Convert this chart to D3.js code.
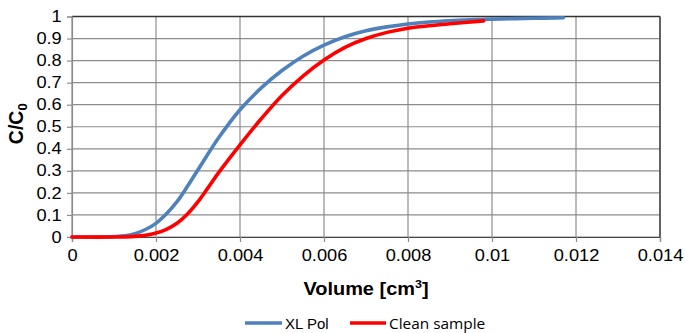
<!DOCTYPE html>
<html>
<head>
<meta charset="utf-8">
<script src="https://cdn.jsdelivr.net/npm/d3@7"></script>
<style>
  body { margin: 0; background: #fff; }
  text { font-family: "Liberation Sans", Arial, sans-serif; }
</style>
</head>
<body>
<div id="chart"></div>
<script>
// volumes in cm3, C/C0 values
const xlPolVolume = [0, 0.0005, 0.001, 0.00125, 0.0015, 0.00175, 0.002, 0.00225, 0.0025, 0.00275, 0.003, 0.0035, 0.004, 0.0045, 0.005, 0.0055, 0.006, 0.0065, 0.007, 0.0075, 0.008, 0.0085, 0.009, 0.0095, 0.01, 0.011, 0.0117];
const xlPolConc   = [0, 0, 0.002, 0.005, 0.015, 0.034, 0.062, 0.105, 0.16, 0.23, 0.305, 0.452, 0.577, 0.675, 0.755, 0.82, 0.87, 0.908, 0.935, 0.953, 0.966, 0.975, 0.981, 0.985, 0.988, 0.992, 0.994];

const cleanVolume = [0, 0.001, 0.0015, 0.00175, 0.002, 0.00225, 0.0025, 0.00275, 0.003, 0.00325, 0.0035, 0.004, 0.0045, 0.005, 0.0055, 0.006, 0.0065, 0.007, 0.0075, 0.008, 0.0085, 0.009, 0.0098];
const cleanConc   = [0, 0, 0.003, 0.008, 0.018, 0.035, 0.062, 0.104, 0.16, 0.226, 0.294, 0.418, 0.535, 0.642, 0.73, 0.803, 0.86, 0.90, 0.928, 0.947, 0.958, 0.967, 0.98];

const xTicks = [0, 0.002, 0.004, 0.006, 0.008, 0.01, 0.012, 0.014];
const yTicks = [0, 0.1, 0.2, 0.3, 0.4, 0.5, 0.6, 0.7, 0.8, 0.9, 1];

const series = [
  { name: 'XL Pol', color: '#4f81bd', x: xlPolVolume, y: xlPolConc },
  { name: 'Clean sample', color: '#ff0000', x: cleanVolume, y: cleanConc }
];

const W = 685, H = 333;
const margin = { top: 16.5, right: 25, bottom: 96, left: 72 };
const width = W - margin.left - margin.right;
const height = H - margin.top - margin.bottom;
const stretch = 1.14; // labels in the picture are drawn a bit wide

const svg = d3.select('#chart').append('svg')
  .attr('width', W).attr('height', H);

const g = svg.append('g')
  .attr('transform', `translate(${margin.left},${margin.top})`);

const x = d3.scaleLinear().domain([0, 0.014]).range([0, width]);
const y = d3.scaleLinear().domain([0, 1]).range([height, 0]);

// gridlines
g.append('g')
  .selectAll('line')
  .data(yTicks)
  .enter().append('line')
  .attr('x1', 0).attr('x2', width)
  .attr('y1', d => y(d)).attr('y2', d => y(d))
  .attr('stroke', '#8c8c8c').attr('stroke-width', 1.2);

g.append('g')
  .selectAll('line')
  .data(xTicks)
  .enter().append('line')
  .attr('y1', 0).attr('y2', height)
  .attr('x1', d => x(d)).attr('x2', d => x(d))
  .attr('stroke', '#8c8c8c').attr('stroke-width', 1.2);

// frame: dark top and right edges
g.append('line').attr('x1', 0).attr('x2', width).attr('y1', 0).attr('y2', 0)
  .attr('stroke', '#333').attr('stroke-width', 1.3);
g.append('line').attr('x1', width).attr('x2', width).attr('y1', 0).attr('y2', height)
  .attr('stroke', '#333').attr('stroke-width', 1.3);

// axes
const yAxis = g.append('g')
  .call(d3.axisLeft(y).tickValues(yTicks).tickSize(5).tickPadding(4).tickFormat(d3.format('~g')));
const xAxis = g.append('g')
  .attr('transform', `translate(0,${height})`)
  .call(d3.axisBottom(x).tickValues(xTicks).tickSize(5).tickPadding(8).tickFormat(d3.format('~g')));

[yAxis, xAxis].forEach(a => {
  a.select('.domain').attr('stroke', '#8c8c8c').attr('stroke-width', 1.2);
  a.selectAll('.tick line').attr('stroke', '#8c8c8c').attr('stroke-width', 1.2);
  a.selectAll('text')
    .style('font-family', '"Liberation Sans", Arial, sans-serif')
    .style('font-size', '16px')
    .attr('fill', '#000')
    .attr('transform', `scale(${stretch},1)`);
});
xAxis.select('.domain').attr('stroke', '#444');

// curves
const line = d3.line()
  .x(d => x(d[0]))
  .y(d => y(d[1]))
  .curve(d3.curveCatmullRom.alpha(0.5));

series.forEach(s => {
  g.append('path')
    .datum(s.x.map((v, i) => [v, s.y[i]]))
    .attr('fill', 'none')
    .attr('stroke', s.color)
    .attr('stroke-width', 3.6)
    .attr('stroke-linecap', 'round')
    .attr('d', line);
});

// axis titles
const xt = svg.append('text')
  .attr('transform', `translate(366,295) scale(${stretch},1)`)
  .attr('text-anchor', 'middle')
  .style('font-size', '17.5px')
  .style('font-weight', 'bold');
xt.append('tspan').text('Volume [cm');
xt.append('tspan').text('3').style('font-size', '11px').attr('dy', -7);
xt.append('tspan').text(']').attr('dy', 7);

const yt = svg.append('text')
  .attr('transform', `translate(23,${margin.top + height / 2 - 3}) rotate(-90)`)
  .attr('text-anchor', 'middle')
  .style('font-size', '19.5px')
  .style('font-weight', 'bold');
yt.append('tspan').text('C/C');
yt.append('tspan').text('0').style('font-size', '13px').attr('dy', 4);

// legend
const legend = svg.append('g');
const legendItems = [
  { x0: 245, x1: 282, tx: 285, font: '"Liberation Sans", Arial, sans-serif', size: '15px', sx: 1.0 },
  { x0: 350, x1: 386, tx: 389, font: '"Open Sans", "Noto Sans", sans-serif', size: '14px', sx: 1.1 }
];
series.forEach((s, i) => {
  const it = legendItems[i];
  legend.append('line')
    .attr('x1', it.x0).attr('x2', it.x1)
    .attr('y1', 323).attr('y2', 323)
    .attr('stroke', s.color).attr('stroke-width', 3.6);
  legend.append('text')
    .attr('transform', `translate(${it.tx},329) scale(${it.sx},1)`)
    .style('font-family', it.font)
    .style('font-size', it.size)
    .text(s.name);
});
</script>
</body>
</html>
